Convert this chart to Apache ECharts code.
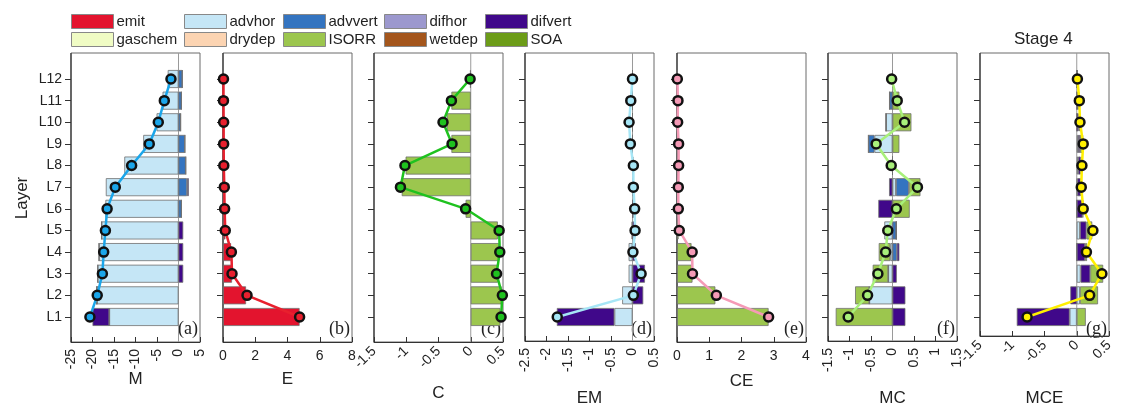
<!DOCTYPE html>
<html><head><meta charset="utf-8">
<script src="https://cdn.jsdelivr.net/npm/echarts@6/dist/echarts.min.js"></script>
<style>html,body{margin:0;padding:0;background:#fff}#c{width:1121px;height:412px}</style>
</head><body><div id="c"></div>
<script>
// ---------------- DATA ----------------
const layers = ['L1','L2','L3','L4','L5','L6','L7','L8','L9','L10','L11','L12'];
const components = ['emit','advhor','advvert','difhor','difvert','gaschem','drydep','ISORR','wetdep','SOA'];
const legendColumns = [['emit','gaschem'],['advhor','drydep'],['advvert','ISORR'],['difhor','wetdep'],['difvert','SOA']];

// (a) M
const M_advhor  = [-16.1,-19.0,-18.8,-18.5,-17.9,-17.0,-16.9,-12.6,-8.2,-5.1,-3.7,-2.5];
const M_advvert = [0,0,0,0,0,0.7,2.0,1.7,1.5,0.5,0.7,0.9];
const M_difvert = [-3.9,0,1.1,1.1,1.1,0,0.4,0,0,0,0,0];
const M_net     = [-20.6,-18.9,-17.7,-17.4,-17.0,-16.6,-14.7,-10.9,-6.8,-4.7,-3.3,-1.75];
// (b) E
const E_emit = [4.75,1.43,0.56,0.5,0.15,0.1,0.08,0.05,0.04,0.04,0.03,0.03];
const E_net  = [4.75,1.49,0.56,0.52,0.14,0.1,0.08,0.05,0.04,0.04,0.03,0.03];
// (c) C
const C_isorr = [0.46,0.48,0.42,0.44,0.42,-0.08,-1.07,-1.01,-0.3,-0.37,-0.3,-0.01];
const C_net   = [0.47,0.49,0.4,0.45,0.44,-0.08,-1.09,-1.02,-0.29,-0.43,-0.3,-0.01];
// (d) EM
const EM_advhor  = [-0.42,-0.24,-0.09,-0.09,-0.02,0,0,0,0,0,0,0];
const EM_difvert = [-1.34,0.25,0.29,0.08,0.06,0.03,0.02,0.02,0,0,0,0];
const EM_net     = [-1.75,0.02,0.2,0.01,0.06,0.05,0.02,0.02,-0.05,-0.08,-0.04,0.0];
// (e) CE
const CE_isorr = [2.84,1.19,0.48,0.45,0.05,0.02,0.02,0.02,0.01,0.0,0.01,0.01];
const CE_net   = [2.84,1.22,0.48,0.47,0.07,0.04,0.04,0.05,0.05,0.02,0.03,0.01];
// (f) MC
const MC_advhor  = [0,-0.54,-0.1,-0.05,-0.19,0,0.08,0,-0.42,-0.15,0,0];
const MC_advvert = [0,0,0,0.1,0.09,0,0.3,0,-0.14,0,-0.07,0];
const MC_difvert = [0.3,0.3,0.1,0.06,0,-0.33,-0.08,0,0,0,0,0];
const MC_isorr   = [-1.32,-0.33,-0.36,-0.27,0,0.4,0.27,0,0.16,0.44,0.16,0];
const MC_net     = [-1.03,-0.58,-0.34,-0.16,-0.11,0.09,0.58,-0.03,-0.38,0.28,0.11,-0.02];
// (g) MCE
const MCE_advhor  = [-0.11,0.05,0.06,0,0.05,0,0.01,0.02,0.02,0,0,0];
const MCE_difvert = [-0.82,-0.1,0.15,0.13,0.1,0.09,0.05,0.04,0.03,0.03,0.02,0.01];
const MCE_isorr   = [0.14,0.28,0.2,0.03,0.09,0.01,0.01,0.02,0.05,0.02,0.02,0];
const MCE_net     = [-0.77,0.2,0.39,0.15,0.25,0.1,0.07,0.08,0.1,0.05,0.04,0.01];

// axis tick settings per panel
const panelNames = ['M','E','C','EM','CE','MC','MCE'];
const panelTags  = ['(a)','(b)','(c)','(d)','(e)','(f)','(g)'];
const axisMin = [-25,0,-1.5,-2.5,0,-1.5,-1.5];
const axisMax = [5,8,0.5,0.5,4,1.5,0.5];
const axisInterval = [5,2,0.5,0.5,1,0.5,0.5];

// ---------------- STYLE ----------------
const colors = {emit:'#E3142E',advhor:'#C5E6F6',advvert:'#3474C0',difhor:'#9C98CE',difvert:'#40088A',
  gaschem:'#F0FCC4',drydep:'#FCD4B2',ISORR:'#9CC64E',wetdep:'#A4561C',SOA:'#6C9C18'};
const FONT = 'Liberation Sans, Arial, sans-serif';
const panels = [
  {left:71,  rot:90, gap:29, line:'#1BA6EA', zero:true,  comps:{advhor:M_advhor,advvert:M_advvert,difvert:M_difvert}, net:M_net},
  {left:223, rot:0,  gap:29, line:'#E8202E', zero:false, comps:{emit:E_emit}, net:E_net},
  {left:374, rot:45, gap:43, line:'#1FC21F', zero:true,  comps:{ISORR:C_isorr}, net:C_net},
  {left:525, rot:90, gap:49, line:'#A6E6F6', zero:true,  comps:{advhor:EM_advhor,difvert:EM_difvert}, net:EM_net},
  {left:677, rot:0,  gap:31, line:'#F59AB6', zero:false, comps:{ISORR:CE_isorr}, net:CE_net},
  {left:828, rot:90, gap:49, line:'#A8F07A', zero:true,  comps:{advhor:MC_advhor,advvert:MC_advvert,difvert:MC_difvert,ISORR:MC_isorr}, net:MC_net},
  {left:980, rot:45, gap:54, line:'#FFF000', zero:true,  comps:{advhor:MCE_advhor,difvert:MCE_difvert,ISORR:MCE_isorr}, net:MCE_net}
];
const W = 129, BOX_TOP = 53, BOX_H = 289, DATA_TOP = 68.2, DATA_H = 259.6;

const grid = [], xAxis = [], yAxis = [], series = [], graphic = [];
const used = new Set();
panels.forEach((p, i) => {
  const fi = 2*i, di = 2*i+1;
  grid.push({left:p.left, top:BOX_TOP, width:W, height:BOX_H, show:true, borderColor:'#6a6a6a', borderWidth:1});
  grid.push({left:p.left, top:DATA_TOP, width:W, height:DATA_H, show:false});
  xAxis.push({gridIndex:fi, type:'value', min:axisMin[i], max:axisMax[i], interval:axisInterval[i],
    axisLine:{show:true, onZero:false, lineStyle:{color:'#333', width:1}},
    axisTick:{show:true, inside:true, length:5, lineStyle:{color:'#333'}},
    axisLabel:{rotate:p.rot, margin:7, fontSize:14, color:'#222', fontFamily:FONT},
    splitLine:{show:false},
    name:panelNames[i], nameLocation:'middle', nameGap:p.gap, nameMoveOverlap:false,
    nameTextStyle:{fontSize:17, color:'#222', fontFamily:FONT}});
  xAxis.push({gridIndex:di, type:'value', min:axisMin[i], max:axisMax[i], show:false});
  yAxis.push({gridIndex:fi, type:'value', min:0, max:1, show:false});
  yAxis.push({gridIndex:di, type:'category', data:layers, boundaryGap:true,
    axisLine:{show:false, onZero:false},
    axisTick:{show:true, alignWithLabel:true, length:6, lineStyle:{color:'#333'}},
    axisLabel:{show:i===0, fontSize:14, color:'#222', fontFamily:FONT, margin:9},
    name:i===0?'Layer':'', nameLocation:'middle', nameGap:40, nameMoveOverlap:false,
    nameTextStyle:{fontSize:17, color:'#222', fontFamily:FONT}});
  // left axis line (darker) and zero line
  series.push({type:'line', xAxisIndex:fi, yAxisIndex:fi, data:[[axisMin[i],0],[axisMin[i],1]],
    symbol:'none', silent:true, lineStyle:{color:'#333', width:1.2}, z:1});
  if (p.zero) series.push({type:'line', xAxisIndex:fi, yAxisIndex:fi, data:[[0,0],[0,1]],
    symbol:'none', silent:true, lineStyle:{color:'#9a9a9a', width:1}, z:1});
  components.forEach(c => {
    if (!p.comps[c]) return;
    used.add(c);
    series.push({name:c, type:'bar', stack:'s'+i, xAxisIndex:di, yAxisIndex:di, data:p.comps[c],
      barWidth:18, itemStyle:{color:colors[c], borderColor:'#707070', borderWidth:0.8}, z:2});
  });
  series.push({name:'net'+i, type:'line', xAxisIndex:di, yAxisIndex:di, data:p.net,
    symbol:'circle', symbolSize:9, lineStyle:{color:p.line, width:2.5},
    itemStyle:{color:p.line, borderColor:'#111', borderWidth:2.5}, z:5});
  graphic.push({type:'text', right:1121-(p.left+W)+2, top:BOX_TOP+BOX_H-22,
    style:{text:panelTags[i], font:'18px "Liberation Serif", "Times New Roman", serif', fill:'#222'}});
});
components.forEach(c => {
  if (used.has(c)) return;
  series.push({name:c, type:'bar', stack:'s0', xAxisIndex:1, yAxisIndex:1, data:[],
    itemStyle:{color:colors[c], borderColor:'#707070', borderWidth:0.8}});
});
graphic.push({type:'text', left:1014, top:31,
  style:{text:'Stage 4', font:'17px "Liberation Sans", Arial, sans-serif', fill:'#222'}});

const legendLefts = [66,179,278,379,480];
const legend = legendColumns.map((col, k) => ({
  orient:'vertical', left:legendLefts[k], top:9, itemWidth:42, itemHeight:14, itemGap:3,
  selectedMode:false, data:col, icon:'rect',
  itemStyle:{borderColor:'#888', borderWidth:1},
  textStyle:{fontSize:15, color:'#222', fontFamily:FONT, padding:[0,0,0,-2]}
}));

const chart = echarts.init(document.getElementById('c'), null, {renderer:'canvas'});
chart.setOption({animation:false, backgroundColor:'#fff', grid, xAxis, yAxis, series, legend, graphic});
</script></body></html>
